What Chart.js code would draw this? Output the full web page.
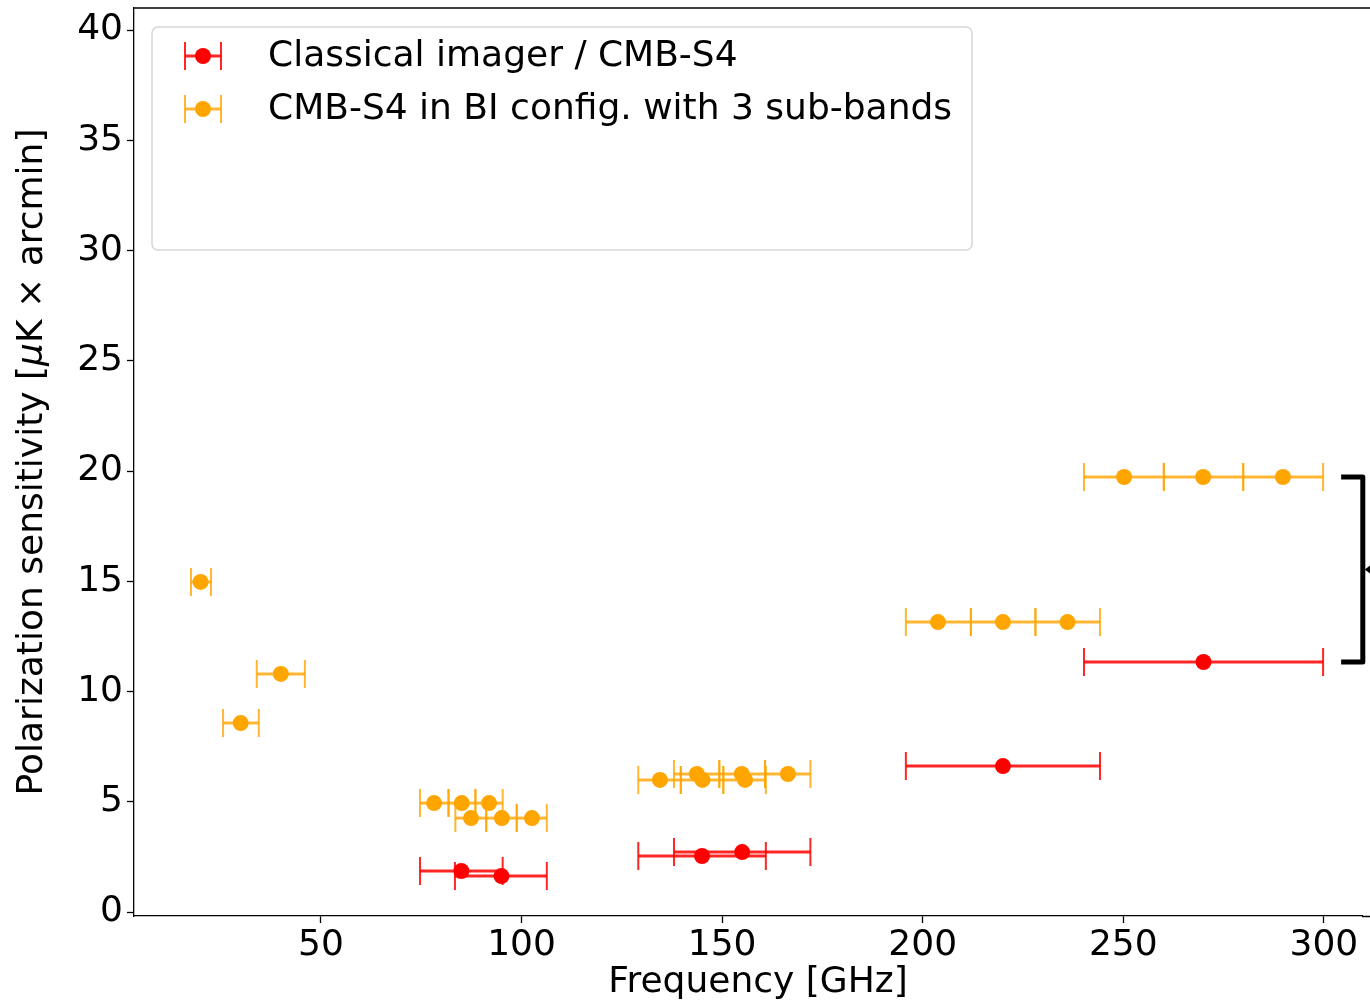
<!DOCTYPE html>
<html>
<head>
<meta charset="utf-8">
<script src="https://cdn.jsdelivr.net/npm/chart.js@4.4.1/dist/chart.umd.min.js"></script>
<style>
  html, body { margin: 0; padding: 0; background: #fff; overflow: hidden; }
  #wrap { width: 1370px; height: 1005px; position: relative; }
  canvas { display: block; }
</style>
</head>
<body>
<div id="wrap"><canvas id="sens"></canvas></div>
<script>
// Classical imager / CMB-S4
const classicFreq = [85, 95, 145, 155, 220, 270];
const classicSens = [1.86, 1.63, 2.54, 2.72, 6.62, 11.34];
const classicLow = [74.7, 83.4, 129.1, 138.0, 195.8, 240.2];
const classicHigh = [95.3, 106.3, 160.9, 172.0, 244.2, 299.8];

// CMB-S4 in BI config. with 3 sub-bands
const biFreq = [20, 30, 40,
  78.2, 85.1, 91.9, 87.4, 95.1, 102.6,
  143.7, 154.9, 166.4, 134.5, 145.1, 155.7,
  203.8, 220.0, 236.1, 250.2, 269.9, 289.8];
const biSens = [14.97, 8.57, 10.8,
  4.94, 4.94, 4.94, 4.26, 4.26, 4.26,
  6.26, 6.26, 6.26, 5.99, 5.99, 5.99,
  13.15, 13.15, 13.15, 19.73, 19.73, 19.73];
const biLow = [17.6, 25.6, 34.0,
  74.7, 81.8, 88.5, 83.5, 91.2, 98.8,
  138.0, 149.3, 160.7, 129.1, 139.7, 150.3,
  195.8, 212.0, 228.1, 240.2, 260.1, 279.9];
const biHigh = [22.6, 34.5, 46.0,
  81.8, 88.5, 95.3, 91.2, 98.8, 106.3,
  149.3, 160.7, 172.0, 139.7, 150.3, 160.9,
  212.0, 228.1, 244.2, 260.1, 279.9, 299.8];

const xTicks = [50, 100, 150, 200, 250, 300];
const yTicks = [0, 5, 10, 15, 20, 25, 30, 35, 40];

// bracket joining the 270 GHz points (x in GHz, y in sensitivity)
const bracketX = [304.3, 309.7];
const bracketY = [19.73, 11.34];

const FONT = 'DejaVu Sans';
const FSIZE = 36;
const RED = '#ff0000';
const ORANGE = '#ffa500';

function toPoints(freq, sens, low, high) {
  return freq.map((f, i) => ({ x: f, y: sens[i], lo: low[i], hi: high[i] }));
}

const errorBars = {
  id: 'errorBars',
  beforeDatasetsDraw(chart) {
    const ctx = chart.ctx;
    const xs = chart.scales.x;
    chart.data.datasets.forEach((ds, di) => {
      const meta = chart.getDatasetMeta(di);
      ctx.save();
      ctx.strokeStyle = ds.barColor;
      meta.data.forEach((pt, i) => {
        const d = ds.data[i];
        const x1 = xs.getPixelForValue(d.lo);
        const x2 = xs.getPixelForValue(d.hi);
        const y = pt.y;
        ctx.lineWidth = 3;
        ctx.beginPath();
        ctx.moveTo(x1, y); ctx.lineTo(x2, y);
        ctx.stroke();
        ctx.lineWidth = 2;
        ctx.beginPath();
        ctx.moveTo(x1, y - 14); ctx.lineTo(x1, y + 14);
        ctx.moveTo(x2, y - 14); ctx.lineTo(x2, y + 14);
        ctx.stroke();
      });
      ctx.restore();
    });
  }
};

const extras = {
  id: 'extras',
  afterDraw(chart) {
    const ctx = chart.ctx;
    const a = chart.chartArea;
    const xs = chart.scales.x, ys = chart.scales.y;
    ctx.save();

    // top and bottom spines run on past the right edge
    ctx.strokeStyle = '#000';
    ctx.lineWidth = 1.3;
    ctx.beginPath();
    ctx.moveTo(a.left, a.top); ctx.lineTo(chart.width, a.top);
    ctx.moveTo(a.right, a.bottom + 0.5); ctx.lineTo(chart.width, a.bottom + 0.5);
    ctx.stroke();

    // bracket
    const bx1 = xs.getPixelForValue(bracketX[0]);
    const bx2 = xs.getPixelForValue(bracketX[1]);
    const by1 = ys.getPixelForValue(bracketY[0]);
    const by2 = ys.getPixelForValue(bracketY[1]);
    ctx.lineWidth = 5;
    ctx.lineJoin = 'round';
    ctx.beginPath();
    ctx.moveTo(bx1, by1); ctx.lineTo(bx2, by1);
    ctx.lineTo(bx2, by2); ctx.lineTo(bx1, by2);
    ctx.stroke();
    const my = (by1 + by2) / 2;
    ctx.fillStyle = '#000';
    ctx.beginPath();
    ctx.moveTo(bx2 + 2, my); ctx.lineTo(bx2 + 10, my - 6); ctx.lineTo(bx2 + 10, my + 6);
    ctx.closePath();
    ctx.fill();

    // legend
    const lx = 152, ly = 27, lw = 820, lh = 223;
    ctx.fillStyle = 'rgba(255,255,255,0.8)';
    ctx.strokeStyle = '#d6d6d6';
    ctx.lineWidth = 1.5;
    ctx.beginPath();
    ctx.roundRect(lx, ly, lw, lh, 6);
    ctx.fill(); ctx.stroke();
    const items = chart.data.datasets;
    items.forEach((ds, i) => {
      const y = 56 + i * 53;
      ctx.strokeStyle = ds.barColor;
      ctx.lineWidth = 3;
      ctx.beginPath(); ctx.moveTo(185, y); ctx.lineTo(221, y); ctx.stroke();
      ctx.lineWidth = 2;
      ctx.beginPath();
      ctx.moveTo(185, y - 14); ctx.lineTo(185, y + 14);
      ctx.moveTo(221, y - 14); ctx.lineTo(221, y + 14);
      ctx.stroke();
      ctx.fillStyle = ds.backgroundColor;
      ctx.beginPath(); ctx.arc(203, y, 8, 0, Math.PI * 2); ctx.fill();
      ctx.fillStyle = '#000';
      ctx.font = FSIZE + 'px "' + FONT + '"';
      ctx.textBaseline = 'middle';
      ctx.textAlign = 'left';
      ctx.fillText(ds.label, 268, y + 1);
    });

    // x axis title, centred on the full (cut-off) axes width
    ctx.fillStyle = '#000';
    ctx.font = FSIZE + 'px "' + FONT + '"';
    ctx.textAlign = 'center';
    ctx.textBaseline = 'middle';
    ctx.fillText('Frequency [GHz]', (a.left + a.right) / 2 + 10, 983);

    // y axis title with italic mu
    ctx.translate(33, (a.top + a.bottom) / 2);
    ctx.rotate(-Math.PI / 2);
    const parts = [
      ['Polarization sensitivity [', 'normal'],
      ['\u03bc', 'italic'],
      ['K \u00d7 arcmin]', 'normal']
    ];
    let total = 0;
    parts.forEach(p => { ctx.font = p[1] + ' ' + FSIZE + 'px "' + FONT + '"'; total += ctx.measureText(p[0]).width; });
    let cx = -total / 2;
    ctx.textAlign = 'left';
    parts.forEach(p => {
      ctx.font = p[1] + ' ' + FSIZE + 'px "' + FONT + '"';
      ctx.fillText(p[0], cx, 0);
      cx += ctx.measureText(p[0]).width;
    });
    ctx.restore();
  }
};

new Chart(document.getElementById('sens'), {
  type: 'scatter',
  data: {
    datasets: [
      {
        label: 'Classical imager / CMB-S4',
        data: toPoints(classicFreq, classicSens, classicLow, classicHigh),
        backgroundColor: RED,
        borderColor: RED,
        barColor: 'rgba(255,0,0,0.85)',
        pointRadius: 8,
        borderWidth: 0
      },
      {
        label: 'CMB-S4 in BI config. with 3 sub-bands',
        data: toPoints(biFreq, biSens, biLow, biHigh),
        backgroundColor: ORANGE,
        borderColor: ORANGE,
        barColor: 'rgba(255,165,0,0.8)',
        pointRadius: 8,
        borderWidth: 0
      }
    ]
  },
  options: {
    responsive: true,
    maintainAspectRatio: false,
    animation: false,
    layout: { padding: { top: 8, right: 0, left: 0, bottom: 0 } },
    plugins: {
      legend: { display: false },
      tooltip: { enabled: false }
    },
    scales: {
      x: {
        type: 'linear',
        min: 3.4,
        max: 309.5,
        afterBuildTicks: s => { s.ticks = xTicks.map(v => ({ value: v })); },
        afterFit: s => { s.height = 89; s.paddingLeft = 0; s.paddingRight = 0; },
        grid: { drawOnChartArea: false, drawTicks: true, tickLength: 7, color: '#000', tickWidth: 1.3 },
        border: { color: '#000', width: 1.3 },
        ticks: { color: '#000', font: { family: FONT, size: FSIZE }, padding: 1, maxRotation: 0 },
        title: { display: false }
      },
      y: {
        type: 'linear',
        min: -0.18,
        max: 41.0,
        afterBuildTicks: s => { s.ticks = yTicks.map(v => ({ value: v })); },
        afterFit: s => { s.width = 134; s.paddingTop = 0; s.paddingBottom = 0; },
        grid: { drawOnChartArea: false, drawTicks: true, tickLength: 7, color: '#000', tickWidth: 1.3 },
        border: { color: '#000', width: 1.3 },
        ticks: { color: '#000', font: { family: FONT, size: FSIZE }, padding: 4 }
      }
    }
  },
  plugins: [errorBars, extras]
});
</script>
</body>
</html>
